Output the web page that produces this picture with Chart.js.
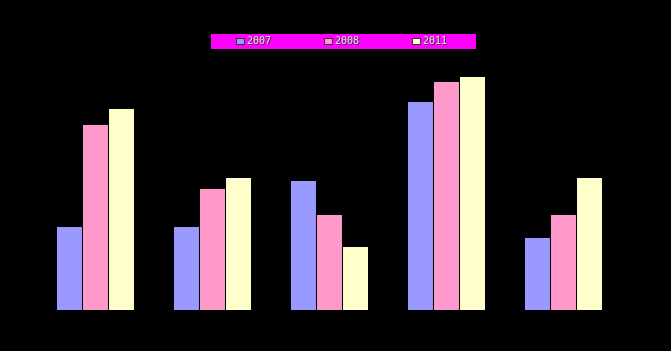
<!DOCTYPE html>
<html>
<head>
<meta charset="utf-8">
<script src="https://cdn.jsdelivr.net/npm/chart.js@4.4.1/dist/chart.umd.min.js"></script>
<style>
  html, body { margin: 0; padding: 0; background: #000; }
  #wrap { width: 671px; height: 351px; position: relative; }
</style>
</head>
<body>
<div id="wrap"><canvas id="chart"></canvas></div>
<script>
const categories = ['1', '2', '3', '4', '5'];
const seriesNames = ['2007', '2008', '2011'];
const values2007 = [8.3, 8.3, 12.9, 20.8, 7.2];
const values2008 = [18.5, 12.1, 9.5, 22.8, 9.5];
const values2011 = [20.1, 13.2, 6.3, 23.3, 13.2];
const colors = ['#9999ff', '#ff99cc', '#ffffcc'];

// legend drawn by hand on a magenta strip
const stripLegend = {
  id: 'stripLegend',
  afterDraw(chart) {
    const ctx = chart.ctx;
    ctx.save();
    ctx.fillStyle = '#ff00ff';
    ctx.fillRect(211, 34, 265, 15);
    ctx.font = '10px "DejaVu Sans Mono"';
    ctx.textBaseline = 'middle';
    chart.data.datasets.forEach((ds, i) => {
      const x = 236 + i * 88;
      ctx.fillStyle = ds.backgroundColor;
      ctx.fillRect(x, 38, 8, 6);
      ctx.strokeStyle = '#333';
      ctx.lineWidth = 1;
      ctx.strokeRect(x + 0.5, 38.5, 8, 6);
      ctx.fillStyle = '#333';
      ctx.fillText(ds.label, x + 12, 42);
      ctx.fillStyle = '#e0e0e0';
      ctx.fillText(ds.label, x + 11, 41.5);
    });
    ctx.restore();
  }
};

new Chart(document.getElementById('chart'), {
  type: 'bar',
  data: {
    labels: categories,
    datasets: [
      { label: seriesNames[0], data: values2007, backgroundColor: colors[0] },
      { label: seriesNames[1], data: values2008, backgroundColor: colors[1] },
      { label: seriesNames[2], data: values2011, backgroundColor: colors[2] }
    ]
  },
  options: {
    responsive: true,
    maintainAspectRatio: false,
    animation: false,
    layout: { padding: { left: 37, right: 49, top: 50, bottom: 41 } },
    datasets: {
      bar: { categoryPercentage: 0.667, barPercentage: 0.96, borderWidth: 0 }
    },
    scales: {
      x: { display: false },
      y: { display: false, min: 0, max: 26 }
    },
    plugins: {
      legend: { display: false },
      tooltip: { enabled: false }
    }
  },
  plugins: [stripLegend]
});
</script>
</body>
</html>
